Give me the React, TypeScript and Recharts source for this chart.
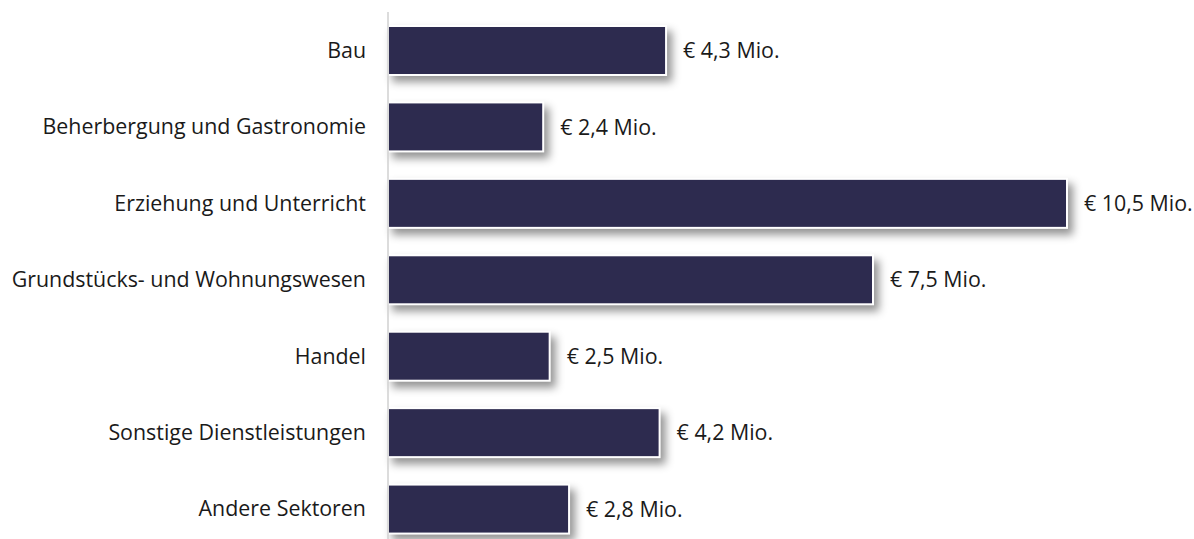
import { BarChart, Bar, XAxis, YAxis, LabelList } from 'recharts';

const sectors = [
  'Bau',
  'Beherbergung und Gastronomie',
  'Erziehung und Unterricht',
  'Grundstücks- und Wohnungswesen',
  'Handel',
  'Sonstige Dienstleistungen',
  'Andere Sektoren',
];
const amounts = [4.3, 2.4, 10.5, 7.5, 2.5, 4.2, 2.8];

const rows = sectors.map((name, i) => ({ name, value: amounts[i] }));

const fmt = (v: any) => `€ ${String(v).replace('.', ',')} Mio.`;

function ShadowBar(props: any) {
  const { x, y, width, height } = props;
  return (
    <rect
      x={x}
      y={y}
      width={width}
      height={height}
      fill="#2d2b4f"
      stroke="#ffffff"
      strokeWidth={2}
      style={{ filter: 'drop-shadow(5px 6px 4px rgba(0,0,0,0.42))' }}
    />
  );
}

export default function App() {
  return (
    <div style={{ width: 1194, height: 539, overflow: 'hidden', fontFamily: '"Open Sans", sans-serif' }}>
      <style>{'body{margin:0;overflow:hidden}'}</style>
      <BarChart
        width={1194}
        height={557}
        data={rows}
        layout="vertical"
        margin={{ top: 12, right: 127, left: 0, bottom: 10 }}
      >
        <XAxis type="number" domain={[0, 10.5]} hide />
        <YAxis
          type="category"
          dataKey="name"
          width={388}
          tickLine={false}
          tickSize={12}
          tickMargin={10}
          axisLine={{ stroke: '#d0d0d0', strokeWidth: 1.5 }}
          tick={{ fill: '#1a1a1a', fontSize: 21.4, fontFamily: '"Open Sans", sans-serif' }}
        />
        <Bar dataKey="value" barSize={49} shape={<ShadowBar />} isAnimationActive={false}>
          <LabelList
            dataKey="value"
            position="right"
            offset={17}
            formatter={fmt}
            fill="#1a1a1a"
            fontSize={21.4}
            fontFamily='"Open Sans", sans-serif'
          />
        </Bar>
      </BarChart>
    </div>
  );
}
